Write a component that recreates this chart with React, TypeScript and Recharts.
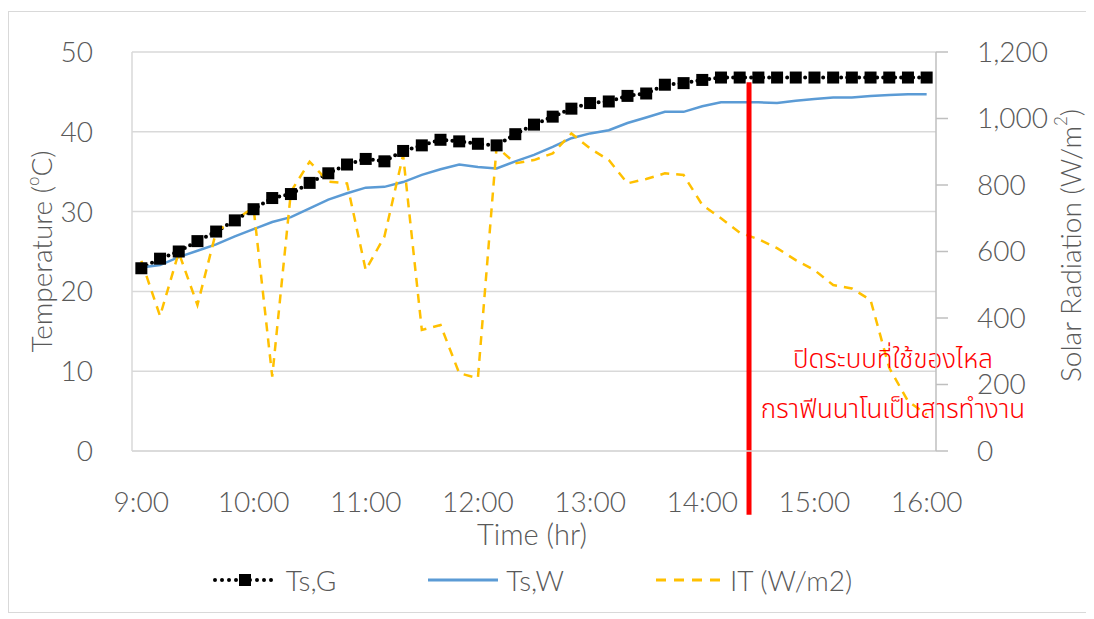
import React from "react";
import { LineChart, Line, XAxis, YAxis, CartesianGrid, ReferenceLine, Legend } from "recharts";

const times = [
  "9:00", "9:10", "9:20", "9:30", "9:40", "9:50",
  "10:00", "10:10", "10:20", "10:30", "10:40", "10:50",
  "11:00", "11:10", "11:20", "11:30", "11:40", "11:50",
  "12:00", "12:10", "12:20", "12:30", "12:40", "12:50",
  "13:00", "13:10", "13:20", "13:30", "13:40", "13:50",
  "14:00", "14:10", "14:20", "14:30", "14:40", "14:50",
  "15:00", "15:10", "15:20", "15:30", "15:40", "15:50",
  "16:00",
];

// surface temperature, graphene nanofluid (°C)
const tsG = [
  22.9, 24.1, 25.0, 26.3, 27.5, 28.9, 30.3, 31.7, 32.2, 33.6, 34.8, 35.9,
  36.6, 36.3, 37.6, 38.3, 39.0, 38.8, 38.5, 38.3, 39.7, 40.9, 41.9, 42.9,
  43.6, 43.8, 44.5, 44.8, 45.9, 46.1, 46.5, 46.8, 46.8, 46.8, 46.8, 46.8,
  46.8, 46.8, 46.8, 46.8, 46.8, 46.8, 46.8,
];

// surface temperature, water (°C)
const tsW = [
  23.0, 23.3, 24.3, 25.1, 25.9, 26.9, 27.8, 28.7, 29.3, 30.4, 31.5, 32.3,
  33.0, 33.1, 33.7, 34.6, 35.3, 35.9, 35.6, 35.4, 36.3, 37.1, 38.1, 39.2,
  39.8, 40.2, 41.1, 41.8, 42.5, 42.5, 43.2, 43.7, 43.7, 43.7, 43.6, 43.9,
  44.1, 44.3, 44.3, 44.5, 44.6, 44.7, 44.7,
];

// solar radiation IT (W/m2)
const solar = [
  572, 406, 597, 439, 660, 695, 732, 224, 780, 870, 810, 805,
  544, 645, 890, 364, 379, 234, 219, 915, 865, 875, 895, 955,
  910, 875, 805, 818, 835, 830, 740, 700, 657, 637, 610, 574,
  544, 499, 489, 454, 250, 150, 110,
];

const hourTicks = [0, 6, 12, 18, 24, 30, 36, 42];
const tempTicks = [0, 10, 20, 30, 40, 50];
const solarTicks = [0, 200, 400, 600, 800, 1000, 1200];
const pumpOffAt = 32.5; // between 14:20 and 14:30
const noteLines = ["ปิดระบบที่ใช้ของไหล", "กราฟีนนาโนเป็นสารทำงาน"];

const data = times.map((t, i) => ({ i, t, tsG: tsG[i], tsW: tsW[i], it: solar[i] }));
const gridX = times.map((_, i) => i - 0.5).filter((_, i) => i > 0 && i % 3 === 0);

const GREY = "#595959";
const FONT = "Lato, 'Open Sans', sans-serif";
const THAI = "'Noto Sans Thai', 'Noto Sans Thai UI', Loma, Garuda, Waree, sans-serif";

function SquareDot(props: any) {
  const { cx, cy, index } = props;
  if (cx == null || cy == null) return <g key={index} />;
  return <rect key={index} x={cx - 6} y={cy - 6} width={12} height={12} fill="#000" />;
}

function LeftTitle(props: any) {
  const vb = props.viewBox ?? { x: 0, y: 40, width: 123, height: 399 };
  const cx = vb.x + 32;
  const cy = vb.y + vb.height / 2;
  return (
    <text x={cx} y={cy} transform={`rotate(-90 ${cx} ${cy})`} textAnchor="middle" dominantBaseline="central"
      fill={GREY} fontSize={28} fontWeight={300}>
      Temperature (<tspan dy={-9} fontSize={17}>o</tspan><tspan dy={9}>C)</tspan>
    </text>
  );
}

function RightTitle(props: any) {
  const vb = props.viewBox ?? { x: 927, y: 40, width: 155, height: 399 };
  const cx = vb.x + 134;
  const cy = vb.y + vb.height / 2 - 6;
  return (
    <text x={cx} y={cy} transform={`rotate(-90 ${cx} ${cy})`} textAnchor="middle" dominantBaseline="central"
      fill={GREY} fontSize={28} fontWeight={300}>
      Solar Radiation (W/m<tspan dy={-10} fontSize={17}>2</tspan><tspan dy={10}>)</tspan>
    </text>
  );
}

function XTitle(props: any) {
  const vb = props.viewBox ?? { x: 123, y: 439, width: 804, height: 109 };
  return (
    <text x={vb.x + vb.width / 2 - 2} y={vb.y + 94} textAnchor="middle" fill={GREY} fontSize={29} fontWeight={300}>
      Time (hr)
    </text>
  );
}

function ShutdownNote(props: any) {
  const vb = props.viewBox ?? { x: 741, y: 70, width: 0, height: 433 };
  const cx = vb.x + 144;
  const bottom = vb.y + vb.height;
  return (
    <g fill="#ff0000" fontSize={26} fontWeight={300} fontFamily={THAI} textAnchor="middle">
      <text x={cx} y={bottom - 147}>{noteLines[0]}</text>
      <text x={cx} y={bottom - 97}>{noteLines[1]}</text>
    </g>
  );
}

function LegendRow() {
  const item = (icon: React.ReactNode, label: string) => (
    <div style={{ display: "flex", alignItems: "center" }}>
      {icon}
      <span style={{ marginLeft: 8, fontSize: 28, fontWeight: 300, color: GREY }}>{label}</span>
    </div>
  );
  return (
    <div style={{ display: "flex", justifyContent: "center", alignItems: "center", gap: 92, height: 40, paddingRight: 36, fontFamily: FONT }}>
      {item(
        <svg width={66} height={20}>
          <line x1={3} y1={10} x2={63} y2={10} stroke="#000" strokeWidth={4} strokeDasharray="0 7" strokeLinecap="round" />
          <rect x={27} y={4} width={12} height={12} fill="#000" />
        </svg>,
        "Ts,G"
      )}
      {item(
        <svg width={70} height={20}>
          <line x1={0} y1={10} x2={70} y2={10} stroke="#5b9bd5" strokeWidth={3} />
        </svg>,
        "Ts,W"
      )}
      {item(
        <svg width={66} height={20}>
          <line x1={0} y1={10} x2={66} y2={10} stroke="#ffc000" strokeWidth={3} strokeDasharray="10 8" />
        </svg>,
        "IT (W/m2)"
      )}
    </div>
  );
}

export default function App() {
  return (
    <div style={{ paddingTop: 3 }}>
      <div style={{ width: 1082, height: 600, border: "1px solid #d9d9d9", fontFamily: FONT, background: "#fff" }}>
        <LineChart width={1082} height={600} data={data} margin={{ top: 40, right: 0, bottom: 12, left: 0 }} style={{ fontFamily: FONT }}>
          <CartesianGrid
            yAxisId="left"
            stroke="#d9d9d9"
            strokeWidth={1.5}
            verticalCoordinatesGenerator={({ xAxis }: any) =>
              xAxis && typeof xAxis.scale === "function" ? gridX.map((v) => xAxis.scale(v)) : []
            }
          />
          <XAxis
            dataKey="i"
            type="number"
            domain={[-0.5, 42.5]}
            ticks={hourTicks}
            interval={0}
            tickFormatter={(v: number) => times[v]}
            tickLine={false}
            tickSize={0}
            tickMargin={41}
            axisLine={{ stroke: "#d9d9d9", strokeWidth: 1.5 }}
            tick={{ fill: GREY, fontSize: 28, fontWeight: 300 }}
            height={109}
            label={<XTitle />}
          />
          <YAxis
            yAxisId="left"
            domain={[0, 50]}
            ticks={tempTicks}
            interval={0}
            width={123}
            tickLine={false}
            tickSize={0}
            tickMargin={39}
            axisLine={{ stroke: "#d9d9d9", strokeWidth: 1.5 }}
            tick={{ fill: GREY, fontSize: 28, fontWeight: 300 }}
            label={<LeftTitle />}
          />
          <YAxis
            yAxisId="right"
            orientation="right"
            domain={[0, 1200]}
            ticks={solarTicks}
            interval={0}
            width={155}
            tickSize={12}
            tickMargin={29}
            tickLine={{ stroke: "#bfbfbf", strokeWidth: 1.5 }}
            axisLine={{ stroke: "#bfbfbf", strokeWidth: 1.5 }}
            tick={{ fill: GREY, fontSize: 28, fontWeight: 300 }}
            tickFormatter={(v: number) => v.toLocaleString("en-US")}
            label={<RightTitle />}
          />
          <Legend verticalAlign="bottom" align="center" height={40} content={() => <LegendRow />} />
          <Line
            yAxisId="left"
            dataKey="tsG"
            type="linear"
            stroke="#000"
            strokeWidth={4}
            strokeDasharray="0 6"
            strokeLinecap="round"
            dot={<SquareDot />}
            activeDot={false}
            isAnimationActive={false}
          />
          <Line
            yAxisId="left"
            dataKey="tsW"
            type="linear"
            stroke="#5b9bd5"
            strokeWidth={2.5}
            dot={false}
            activeDot={false}
            isAnimationActive={false}
          />
          <Line
            yAxisId="right"
            dataKey="it"
            type="linear"
            stroke="#ffc000"
            strokeWidth={2.5}
            strokeDasharray="9 7"
            dot={false}
            activeDot={false}
            isAnimationActive={false}
          />
          <ReferenceLine
            yAxisId="left"
            segment={[{ x: pumpOffAt, y: -8 }, { x: pumpOffAt, y: 46.2 }]}
            stroke="#ff0000"
            strokeWidth={5}
            ifOverflow="visible"
            label={<ShutdownNote />}
          />
        </LineChart>
      </div>
    </div>
  );
}
